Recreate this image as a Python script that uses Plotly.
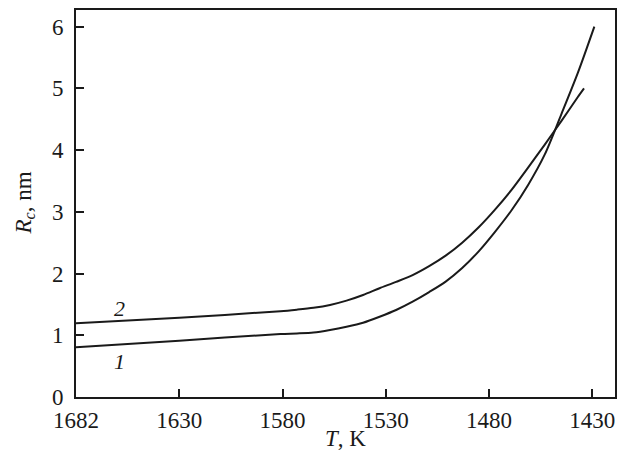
import plotly.graph_objects as go

# Curve 1 (lower at high T, crosses and ends at 6 nm)
T1 = [1680, 1630, 1581, 1573, 1565, 1557, 1549, 1541, 1533, 1525, 1517, 1509, 1501, 1493, 1485, 1477, 1469, 1461, 1453, 1445, 1437, 1429]
R1 = [0.805, 0.912, 1.021, 1.03, 1.045, 1.086, 1.139, 1.204, 1.301, 1.41, 1.545, 1.70, 1.87, 2.09, 2.36, 2.68, 3.03, 3.44, 3.93, 4.58, 5.25, 6.0]

# Curve 2 (upper at high T, ends at 5 nm)
T2 = [1680, 1630, 1581, 1573, 1565, 1557, 1549, 1541, 1533, 1525, 1517, 1509, 1501, 1493, 1485, 1477, 1469, 1461, 1453, 1445, 1437, 1434]
R2 = [1.195, 1.285, 1.39, 1.415, 1.445, 1.491, 1.561, 1.653, 1.762, 1.865, 1.975, 2.12, 2.29, 2.50, 2.75, 3.04, 3.36, 3.72, 4.09, 4.47, 4.86, 5.0]

x_tickvals = [1680, 1630, 1580, 1530, 1480, 1430]
x_ticktext = ["1682", "1630", "1580", "1530", "1480", "1430"]
y_tickvals = [0, 1, 2, 3, 4, 5, 6]

curve_labels = ["1", "2"]
label_T = [1659, 1659]
label_R = [0.58, 1.44]

FONT = "Liberation Serif"
INK = "#1a1a1a"

fig = go.Figure()
for T, R in [(T1, R1), (T2, R2)]:
    fig.add_trace(go.Scatter(x=T, y=R, mode="lines",
                             line=dict(color=INK, width=2, shape="spline", smoothing=0.8),
                             showlegend=False, hoverinfo="skip"))

for lab, t, r in zip(curve_labels, label_T, label_R):
    fig.add_annotation(x=t, y=r, text=f"<i>{lab}</i>", showarrow=False,
                       font=dict(family=FONT, size=22, color=INK))

# axis titles
fig.add_annotation(xref="paper", yref="paper", x=0.5, y=0, yshift=-41,
                   xanchor="center", yanchor="middle", showarrow=False,
                   text="<i>T</i>, K", font=dict(family=FONT, size=23, color=INK))
fig.add_annotation(xref="paper", yref="paper", x=0, y=0.5, xshift=-52,
                   xanchor="center", yanchor="middle", showarrow=False, textangle=-90,
                   text="<i>R</i><sub><i>c</i></sub>, nm", font=dict(family=FONT, size=23, color=INK))

axis_common = dict(showline=True, linecolor=INK, linewidth=2, mirror=True,
                   ticks="inside", ticklen=8, tickwidth=1.5, tickcolor=INK,
                   showgrid=False, zeroline=False, automargin=False,
                   tickfont=dict(family=FONT, size=23, color=INK))

fig.update_layout(
    width=632, height=462,
    margin=dict(l=76, r=17, t=10, b=65),
    paper_bgcolor="white", plot_bgcolor="white",
    xaxis=dict(range=[1680, 1419], tickvals=x_tickvals, ticktext=x_ticktext,
               ticklabelstandoff=1, **axis_common),
    yaxis=dict(range=[0, 6.27], tickvals=y_tickvals, ticklabelstandoff=6,
               **axis_common),
)

fig.write_html("out.html", config={"displayModeBar": False},
               post_script="document.body.style.margin='0';")
